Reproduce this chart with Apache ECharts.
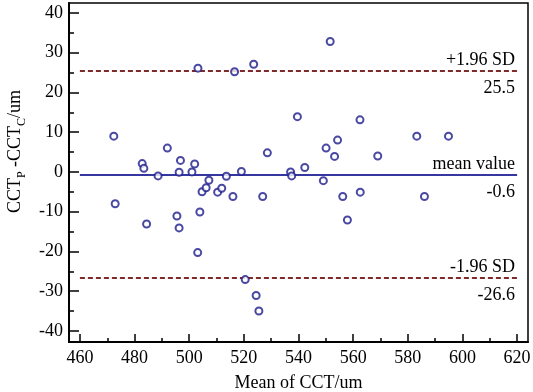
<!DOCTYPE html>
<html>
<head>
<meta charset="utf-8">
<script src="https://cdn.jsdelivr.net/npm/echarts@6/dist/echarts.min.js"></script>
<style>html,body{margin:0;padding:0;background:#fff}#c{width:533px;height:392px}</style>
</head>
<body>
<div id="c"></div>
<script>
// Mean of CCT (x) and difference CCT_P - CCT_C (y)
const meanCCT = [472.4,472.9,482.8,483.4,484.4,488.6,492.0,495.5,496.3,496.3,496.8,501.0,502.0,503.1,503.2,503.9,504.7,506.2,507.2,510.4,511.9,513.6,516.0,516.6,519.1,520.5,523.6,524.5,525.5,526.9,528.6,537.1,537.5,539.6,542.3,549.1,550.1,551.6,553.2,554.3,556.2,557.9,562.5,562.6,569.0,583.3,586.1,594.9];
const diffCCT = [9.0,-8.0,2.1,0.9,-13.1,-1.0,6.0,-11.1,-14.1,-0.1,2.9,0.0,2.0,-20.3,26.1,-10.1,-5.0,-4.0,-2.1,-5.1,-4.1,-1.1,-6.2,25.2,0.1,-27.1,27.1,-31.1,-35.0,-6.2,4.8,0.0,-1.0,13.9,1.1,-2.2,6.0,32.8,3.9,8.0,-6.2,-12.1,13.1,-5.1,4.0,9.0,-6.2,9.0];
const meanDiff = -0.6;
const upperLoA = 25.5;
const lowerLoA = -26.6;
const lineRange = [460, 620];
const xTicks = [460,480,500,520,540,560,580,600,620];
const xMinorTicks = [470,490,510,530,550,570,590,610];
const yTicks = [-40,-30,-20,-10,0,10,20,30,40];
const yMinorTicks = [-35,-25,-15,-5,5,15,25,35];

const FONT = 'Liberation Serif';
const chart = echarts.init(document.getElementById('c'));
const pts = meanCCT.map((x,i)=>[x, diffCCT[i]]);

function refLine(y, topText, bottomText, color, type) {
  const ls = {color: color, width: 1.5, type: type};
  const lab = {color:'#000', fontFamily: FONT, fontSize: 18};
  return [
    [{coord:[lineRange[0], y], lineStyle: ls, label: Object.assign({}, lab, {position:'insideEndTop', distance: [2, 1], formatter: topText})},
     {coord:[lineRange[1], y]}],
    [{coord:[lineRange[0], y], lineStyle: ls, label: Object.assign({}, lab, {position:'insideEndBottom', distance: [2, 9], formatter: bottomText})},
     {coord:[lineRange[1], y]}]
  ];
}

const xMin = 456, xMax = 624, yMin = -42.8, yMax = 42.5;

const option = {
  animation: false,
  grid: {left: 69, right: 5, top: 3, bottom: 50, show: true, borderColor: '#000', borderWidth: 1.5,
         containLabel: false, outerBoundsMode: 'none'},
  xAxis: [{
    type: 'value', min: xMin, max: xMax, position: 'bottom',
    axisLine: {show: true, onZero: false, lineStyle: {color:'#000', width: 2}},
    axisTick: {show: true, inside: true, length: 8, customValues: xTicks, lineStyle:{color:'#000', width:1.5}},
    axisLabel: {customValues: xTicks, color:'#000', fontFamily: FONT, fontSize: 18, margin: 7},
    splitLine: {show: false},
    name: 'Mean of CCT/um', nameLocation: 'middle', nameGap: 32,
    nameTextStyle: {color:'#000', fontFamily: FONT, fontSize: 18}
  },{
    type: 'value', min: xMin, max: xMax, position: 'bottom', gridIndex: 0,
    axisLine: {show: false, onZero: false},
    axisTick: {show: true, inside: true, length: 4, customValues: xMinorTicks, lineStyle:{color:'#000', width:1.5}},
    axisLabel: {show: false}, splitLine: {show: false}
  }],
  yAxis: [{
    type: 'value', min: yMin, max: yMax, position: 'left',
    axisLine: {show: true, onZero: false, lineStyle: {color:'#000', width: 2}},
    axisTick: {show: true, inside: true, length: 10, customValues: yTicks, lineStyle:{color:'#000', width:1.5}},
    axisLabel: {customValues: yTicks, color:'#000', fontFamily: FONT, fontSize: 18, margin: 6},
    splitLine: {show: false},
    name: '{a|CCT}{s|P}{a| -CCT}{s|C}{a|/um}', nameLocation: 'middle', nameGap: 38, nameRotate: 90,
    nameTextStyle: {
      color:'#000', fontFamily: FONT, fontSize: 18, padding: [0,0,0,42],
      rich: {
        a: {fontFamily: FONT, fontSize: 18, color:'#000', lineHeight: 18, verticalAlign: 'top'},
        s: {fontFamily: FONT, fontSize: 12, color:'#000', lineHeight: 12, verticalAlign: 'top', padding: [10,0,0,0]}
      }
    }
  },{
    type: 'value', min: yMin, max: yMax, position: 'left',
    axisLine: {show: false, onZero: false},
    axisTick: {show: true, inside: true, length: 5, customValues: yMinorTicks, lineStyle:{color:'#000', width:1.5}},
    axisLabel: {show: false}, splitLine: {show: false}
  }],
  series: [{
    type: 'scatter', data: pts, symbol: 'emptyCircle', symbolSize: 7,
    itemStyle: {color: '#1c1c8c', borderColor: '#1c1c8c', borderWidth: 1.7},
    z: 5,
    markLine: {
      silent: true, symbol: 'none', animation: false,
      data: [].concat(
        refLine(upperLoA, '+1.96 SD', String(upperLoA), '#7a1f1f', [5,3]),
        refLine(meanDiff, 'mean value', String(meanDiff), '#2a2a9a', 'solid'),
        refLine(lowerLoA, '-1.96 SD', String(lowerLoA), '#7a1f1f', [5,3])
      )
    }
  }]
};
chart.setOption(option);
</script>
</body>
</html>
